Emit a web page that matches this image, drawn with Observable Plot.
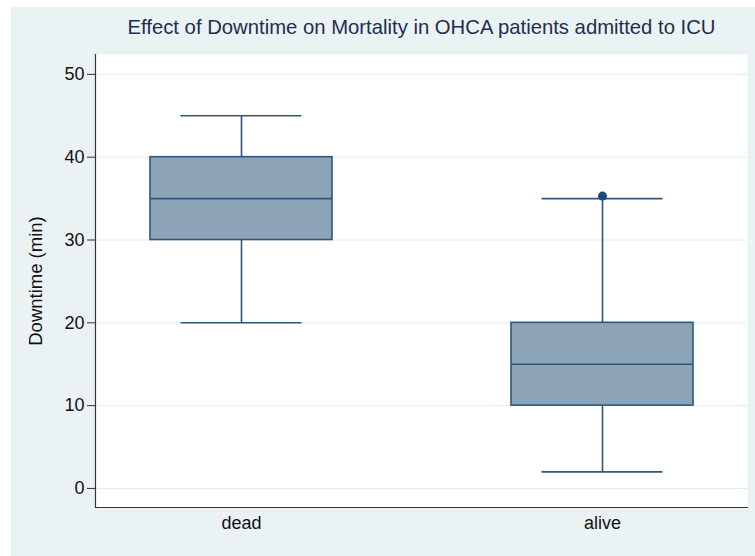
<!DOCTYPE html>
<html>
<head>
<meta charset="utf-8">
<script src="https://cdn.jsdelivr.net/npm/d3@7"></script>
<script src="https://cdn.jsdelivr.net/npm/@observablehq/plot@0.6"></script>
<style>
  html, body { margin: 0; padding: 0; background: #ffffff; }
  #chart { position: absolute; left: 11px; top: 7px; }
  #chart svg { display: block; }
</style>
</head>
<body>
<div id="chart"></div>
<script>
const groups = ["dead", "alive"];
const mins = [20, 2];
const q1s = [30, 10];
const medians = [35, 15];
const q3s = [40, 20];
const maxs = [45, 35];
const outlierGroups = ["alive"];
const outlierValues = [35.3];
const yTicks = [0, 10, 20, 30, 40, 50];
const titleText = "Effect of Downtime on Mortality in OHCA patients admitted to ICU";
const yLabel = "Downtime (min)";

const boxes = groups.map((g, i) => ({group: g, min: mins[i], q1: q1s[i], median: medians[i], q3: q3s[i], max: maxs[i]}));
const outliers = outlierGroups.map((g, i) => ({group: g, value: outlierValues[i]}));

const fillC = "#8DA3B6";
const strokeC = "#2B5882";
const font = "'Liberation Sans', Arial, Helvetica, sans-serif";

const plot = Plot.plot({
  width: 744,
  height: 549,
  marginLeft: 84,
  marginRight: 8,
  marginTop: 47,
  marginBottom: 49,
  style: {background: "#EAF2F3", fontFamily: font, fontSize: "18px", color: "#111"},
  x: {type: "band", domain: groups, paddingInner: 0.496, paddingOuter: 0.151, label: null},
  y: {domain: [-2.3, 52.4], label: null},
  marks: [
    Plot.frame({fill: "#ffffff", stroke: null}),
    Plot.gridY(yTicks, {stroke: "#E3ECF0", strokeOpacity: 1, strokeWidth: 1}),
    Plot.ruleX(boxes, {x: "group", y1: "q3", y2: "max", stroke: strokeC, strokeWidth: 1.6}),
    Plot.ruleX(boxes, {x: "group", y1: "min", y2: "q1", stroke: strokeC, strokeWidth: 1.6}),
    Plot.tickY(boxes, {x: "group", y: "max", stroke: strokeC, strokeWidth: 1.6, insetLeft: 30.5, insetRight: 30.5}),
    Plot.tickY(boxes, {x: "group", y: "min", stroke: strokeC, strokeWidth: 1.6, insetLeft: 30.5, insetRight: 30.5}),
    Plot.barY(boxes, {x: "group", y1: "q1", y2: "q3", fill: fillC, stroke: strokeC, strokeWidth: 1.6}),
    Plot.tickY(boxes, {x: "group", y: "median", stroke: strokeC, strokeWidth: 1.6}),
    Plot.dot(outliers, {x: "group", y: "value", r: 4.5, fill: "#1E4A76", stroke: null}),
    Plot.axisY({ticks: yTicks, tickSize: 8, tickPadding: 3, stroke: "#333", label: null, fontSize: 18, fill: "#111"}),
    Plot.axisX({tickSize: 0, tickPadding: 9, label: null, fontSize: 18, fill: "#111"}),
    Plot.axisY({ticks: [], label: yLabel, labelAnchor: "center", labelArrow: "none", labelOffset: 67, fontSize: 18.5, fill: "#111"}),
    Plot.frame({anchor: "left", stroke: "#333", strokeWidth: 1.2}),
    Plot.frame({anchor: "bottom", stroke: "#333", strokeWidth: 1.2}),
    Plot.text([titleText], {frameAnchor: "top", lineAnchor: "middle", dy: -27, fontSize: 20.3, fill: "#1F2E50", fontFamily: font})
  ]
});
document.getElementById("chart").appendChild(plot);
</script>
</body>
</html>
